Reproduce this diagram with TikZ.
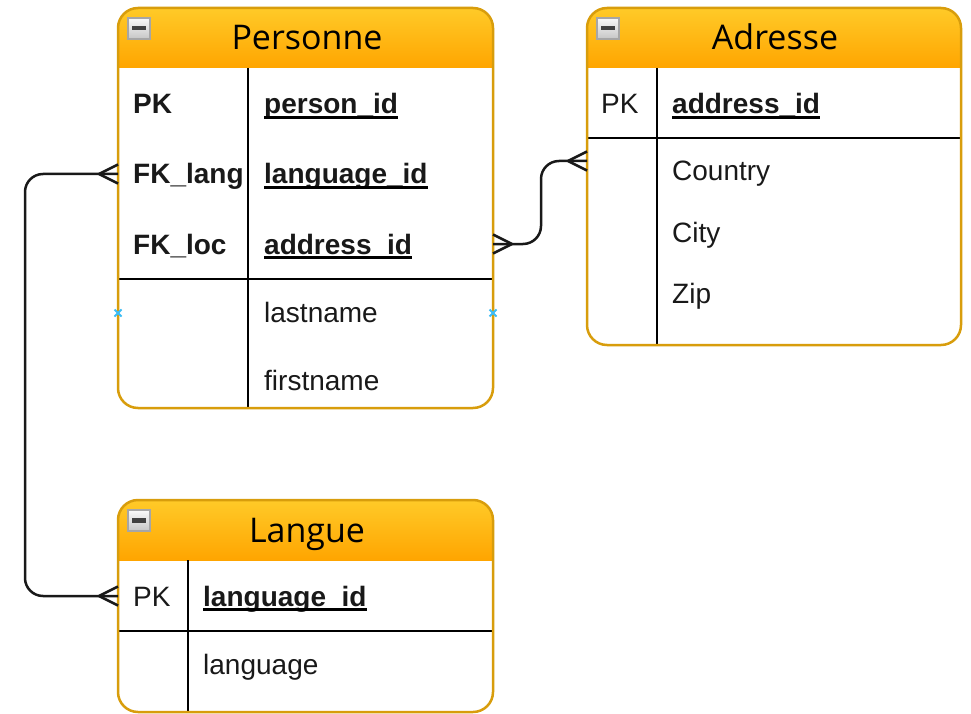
\documentclass[tikz,border=0pt]{standalone}
\usepackage{fontspec}
\setmainfont{Liberation Sans}
\newfontfamily\titlefont{Open Sans}
\usetikzlibrary{calc}

\definecolor{tblborder}{HTML}{D89D0C}
\definecolor{hdrtop}{HTML}{FFCA28}
\definecolor{hdrbot}{HTML}{FFA500}
\definecolor{markblue}{HTML}{3DBDF5}

\tikzset{
  tborder/.style={draw=tblborder, line width=2.5pt},
  gridline/.style={draw=black, line width=2.3pt},
  cell/.style={anchor=base west, inner sep=0pt, font=\fontsize{28}{32}\selectfont, text=black!90},
  keycell/.style={cell, font=\fontsize{28}{32}\selectfont\bfseries},
  tabletitle/.style={anchor=base, inner sep=0pt, font=\titlefont\fontsize{34}{38}\selectfont, text=black},
  rel/.style={draw=black!90, line width=2.5pt, rounded corners=18},
  foot/.style={draw=black!90, line width=2.5pt},
  keyline/.style={draw=black, line width=2.2pt},
  handle/.style={draw=markblue, line width=2pt},
}

% Frame of an entity: left x, top y, right x, bottom y, column divider x, key separator y
\newcommand\erframe[6]{%
  \fill[white, rounded corners=20] (#1,#2) rectangle (#3,#4);
  \begin{scope}
    \clip[rounded corners=20] (#1,#2) rectangle (#3,#2+100);
    \shade[top color=hdrtop, bottom color=hdrbot] (#1,#2) rectangle (#3,#2+60);
  \end{scope}
  \draw[gridline] (#5,#2+60) -- (#5,#4);
  \draw[gridline] (#1,#6) -- (#3,#6);
  \draw[tborder, rounded corners=20] (#1,#2) rectangle (#3,#4);
  % collapse button
  \shade[top color=gray!5, bottom color=gray!45, draw=gray!70, line width=1.2pt]
    (#1+10,#2+10) rectangle (#1+32,#2+31);
  \fill[black!75] (#1+14,#2+18) rectangle (#1+28,#2+22.5);
}

% underline under a key field node
\newcommand\keyul[1]{%
  \draw[keyline] ($(#1.base west)+(0,3.5)$) -- ($(#1.base east)+(0,3.5)$);}

% crow's foot ("many") at an attachment point; #2 = -1 opens to the left side, +1 to the right
\newcommand\crowfoot[2]{%
  \draw[foot] ($(#1)+(#2*19,0)$) -- ($(#1)+(0,-9.5)$)
              ($(#1)+(#2*19,0)$) -- ($(#1)+(0,9.5)$);}

\newcommand\handlemark[1]{%
  \draw[handle] ($(#1)+(-3.5,-3.5)$) -- ($(#1)+(3.5,3.5)$)
                ($(#1)+(-3.5,3.5)$) -- ($(#1)+(3.5,-3.5)$);}

\begin{document}
\begin{tikzpicture}[x=1pt, y=-1pt]
\useasboundingbox (0,0) rectangle (971,714);

% ---------------- Personne ----------------
\erframe{118}{8}{493}{408}{248}{279}
\node[tabletitle] (pers-title) at (307,50) {Personne};
\node[keycell] (pers-k1) at (133,114) {PK};
\node[keycell] (pers-k2) at (133,184) {FK\_lang};
\node[keycell] (pers-k3) at (133,254) {FK\_loc};
\node[keycell] (pers-f1) at (264,114) {person\_id};
\node[keycell] (pers-f2) at (264,184) {language\_id};
\node[keycell] (pers-f3) at (264,254) {address\_id};
\keyul{pers-f1}\keyul{pers-f2}\keyul{pers-f3}
\node[cell] (pers-f4) at (264,322) {lastname};
\node[cell] (pers-f5) at (264,390) {firstname};

% ---------------- Adresse ----------------
\erframe{587}{8}{961}{345}{657}{138}
\node[tabletitle] (addr-title) at (775,50) {Adresse};
\node[cell] (addr-k1) at (601,114) {PK};
\node[keycell] (addr-f1) at (672,114) {address\_id};
\keyul{addr-f1}
\node[cell] (addr-f2) at (672,181) {Country};
\node[cell] (addr-f3) at (672,242) {City};
\node[cell] (addr-f4) at (672,303) {Zip};

% ---------------- Langue ----------------
\erframe{118}{500}{493}{712}{188}{631}
\node[tabletitle] (lang-title) at (307,542) {Langue};
\node[cell] (lang-k1) at (133,606) {PK};
\node[keycell] (lang-f1) at (203,606) {language\_id};
\keyul{lang-f1}
\node[cell] (lang-f2) at (203,674) {language};

% ---------------- relations ----------------
\coordinate (pers-lang) at (118,174);
\coordinate (lang-pk) at (118,596);
\coordinate (pers-addr) at (493,244);
\coordinate (addr-pk) at (587,161);

\draw[rel] (pers-lang) -- ++(-93,0) |- (lang-pk);
\draw[rel] (pers-addr) -- ++(48,0) |- (addr-pk);

\crowfoot{pers-lang}{-1}
\crowfoot{lang-pk}{-1}
\crowfoot{addr-pk}{-1}
\crowfoot{pers-addr}{1}

% connection handles on the Personne frame
\coordinate (pers-west) at (118,313);
\coordinate (pers-east) at (493,313);
\handlemark{pers-west}
\handlemark{pers-east}
\end{tikzpicture}
\end{document}
